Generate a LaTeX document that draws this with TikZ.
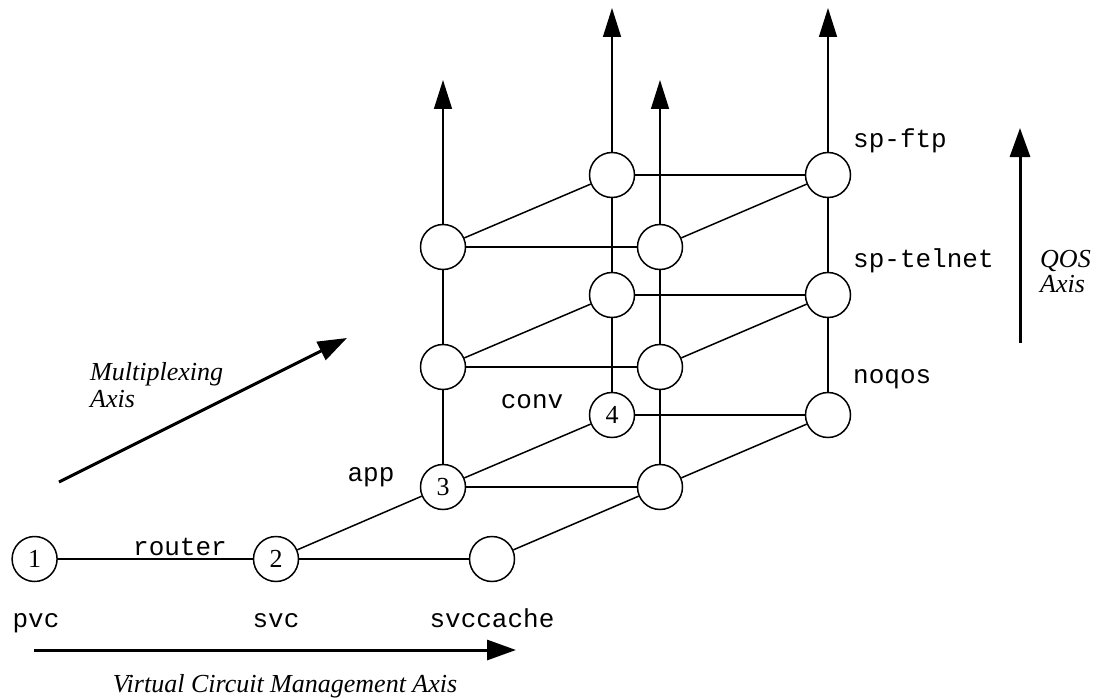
\documentclass[tikz,border=0pt]{standalone}
\usepackage{fontspec}
\setmainfont{Liberation Serif}
\setmonofont{Liberation Mono}
\usetikzlibrary{arrows.meta}
\begin{document}
\begin{tikzpicture}[x=1pt,y=-1pt,
  state/.style={circle,draw,fill=white,line width=1.5pt,minimum size=45pt,
    inner sep=0pt,font=\fontsize{26}{28}\selectfont},
  link/.style={line width=1.5pt},
  up/.style={line width=1.5pt,-{Triangle[length=29pt,width=18pt]}},
  axis/.style={line width=3pt,-{Triangle[length=29pt,width=20pt]}},
  tag/.style={font=\fontsize{26}{28}\selectfont\ttfamily,inner sep=0pt},
  axislabel/.style={font=\fontsize{26}{27}\selectfont\itshape,inner sep=0pt,align=left}]
\useasboundingbox (0,0) rectangle (1100,698);

% front row: virtual circuit management
\node[state] (n1) at (34.6,559) {1};
\node[state] (n2) at (276,559) {2};
\node[state] (nc) at (492,559) {};

% multiplexing layers
\node[state] (n3) at (443,487) {3};
\node[state] (cb) at (660,487) {};
\node[state] (n4) at (612,415) {4};
\node[state] (db) at (828,415) {};

\node[state] (al) at (443,367) {};
\node[state] (cl) at (660,367) {};
\node[state] (bm) at (612,295) {};
\node[state] (dm) at (828,295) {};

\node[state] (au) at (443,247) {};
\node[state] (cu) at (660,247) {};
\node[state] (bt) at (612,175) {};
\node[state] (dt) at (828,175) {};

% open ends of the QOS columns
\coordinate (ta) at (443,80);
\coordinate (tc) at (660,80);
\coordinate (tb) at (612,8);
\coordinate (td) at (828,8);

% horizontal links
\draw[link] (n1) -- (n2);
\draw[link] (n2) -- (nc);
\draw[link] (n3) -- (cb);
\draw[link] (n4) -- (db);
\draw[link] (al) -- (cl);
\draw[link] (bm) -- (dm);
\draw[link] (au) -- (cu);
\draw[link] (bt) -- (dt);

% diagonal links
\draw[link] (n2) -- (n3);
\draw[link] (nc) -- (cb);
\draw[link] (n3) -- (n4);
\draw[link] (cb) -- (db);
\draw[link] (al) -- (bm);
\draw[link] (cl) -- (dm);
\draw[link] (au) -- (bt);
\draw[link] (cu) -- (dt);

% vertical links
\draw[link] (n3) -- (al);
\draw[link] (al) -- (au);
\draw[up] (au) -- (ta);
\draw[link] (cb) -- (cl);
\draw[link] (cl) -- (cu);
\draw[up] (cu) -- (tc);
\draw[link] (n4) -- (bm);
\draw[link] (bm) -- (bt);
\draw[up] (bt) -- (tb);
\draw[link] (db) -- (dm);
\draw[link] (dm) -- (dt);
\draw[up] (dt) -- (td);

% state names
\node[tag,anchor=base] (lpvc) at (36,627) {pvc};
\node[tag,anchor=base] (lsvc) at (276,627) {svc};
\node[tag,anchor=base] (lcache) at (492,627) {svccache};
\node[tag,anchor=base] (lrouter) at (180,555) {router};
\node[tag,anchor=base] (lapp) at (371,481) {app};
\node[tag,anchor=base] (lconv) at (532,408) {conv};
\node[tag,anchor=base west] (lftp) at (853,147) {sp-ftp};
\node[tag,anchor=base west] (ltelnet) at (853,267) {sp-telnet};
\node[tag,anchor=base west] (lnoqos) at (853,383) {noqos};

% axes
\coordinate (h0) at (34,650);
\coordinate (h1) at (516,650);
\draw[axis] (h0) -- (h1);
\node[axislabel,anchor=base] (lvcm) at (285,692) {Virtual Circuit Management Axis};

\coordinate (m0) at (59,482);
\coordinate (m1) at (347,338);
\draw[axis] (m0) -- (m1);
\node[axislabel,anchor=base west] (lmux) at (90,407) {Multiplexing\\Axis};

\coordinate (q0) at (1020,343);
\coordinate (q1) at (1020,128);
\draw[axis] (q0) -- (q1);
\node[axislabel,anchor=base west,font=\fontsize{26}{25}\selectfont\itshape] (lqos) at (1040,292) {QOS\\Axis};
\end{tikzpicture}
\end{document}
